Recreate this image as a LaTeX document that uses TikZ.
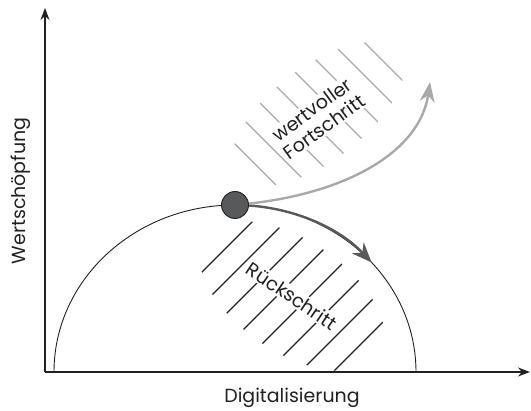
\documentclass[tikz,border=0pt]{standalone}
\usepackage{fontspec}
\setmainfont{Poppins}
\usetikzlibrary{arrows.meta,positioning,calc}

\definecolor{ink}{HTML}{231F20}
\definecolor{darkgrey}{HTML}{58595B}
\definecolor{lightgrey}{HTML}{A7A9AC}

\begin{document}
\begin{tikzpicture}[
  x=1pt, y=1pt,
  >=Stealth,
  font=\fontsize{19}{21}\selectfont,
  axis/.style={-{Stealth[length=12pt, width=9pt]}, line width=1.3pt, draw=ink},
  curve/.style={line width=0.9pt, draw=ink},
  backarrow/.style={-{Stealth[length=20pt, width=16pt]}, line width=2.4pt, draw=darkgrey},
  fwdarrow/.style={-{Stealth[length=20pt, width=15pt]}, line width=2.4pt, draw=lightgrey},
  hatchdark/.style={line width=1.1pt, draw=ink},
  hatchlight/.style={line width=1.1pt, draw=lightgrey},
  tag/.style={fill=white, inner sep=1.5pt, text=ink, align=center},
  spot/.style={circle, draw=ink, fill=darkgrey, line width=0.9pt,
    minimum size=27pt, inner sep=0pt}
]

\useasboundingbox (-45,-39) rectangle (486,372);

% Axes
\coordinate (origin) at (0,0);
\coordinate (ytip) at (0,364);
\coordinate (xtip) at (485,0);
\draw[axis] (origin) -- (ytip);
\draw[axis] (origin) -- (xtip);

\node[text=ink, rotate=90] (ylabel) at (-24,181) {Wertschöpfung};
\node[text=ink] (xlabel) at (247,-26) {Digitalisierung};

% Half ellipse
\coordinate (peak) at (190,167);
\draw[curve] (9,0) arc[start angle=180, end angle=0, x radius=181pt, y radius=167pt];

% Hatched areas
\coordinate (gain) at (273,258);
\coordinate (loss) at (247,76);
\begin{scope}
  \clip[rotate around={37:(gain)}] (gain) ellipse[x radius=102pt, y radius=47pt];
  \foreach \s in {-146,-113,...,151}
    \draw[hatchlight] ($(gain)+(\s,0)+(-120,120)$) -- ++(240,-240);
\end{scope}
\begin{scope}
  \clip[rotate around={-34:(loss)}] (loss) ellipse[x radius=105pt, y radius=56pt];
  \foreach \s in {-114,-81,...,150}
    \draw[hatchdark] ($(loss)+(\s,0)+(-120,-120)$) -- ++(240,240);
\end{scope}

\node[tag, rotate=36] (gainlabel) at (273,254) {wertvoller\\Fortschritt};
\node[tag, rotate=-34] (losslabel) at (247,76) {Rückschritt};

% Arrows leaving the peak
\coordinate (fwdtip) at (385,290);
\draw[backarrow] (peak) arc[start angle=90, end angle=41, x radius=181pt, y radius=167pt];
\draw[fwdarrow] (peak) .. controls (300,176) and (375,220) .. (fwdtip);

\node[spot] (top) at (peak) {};

\end{tikzpicture}
\end{document}
